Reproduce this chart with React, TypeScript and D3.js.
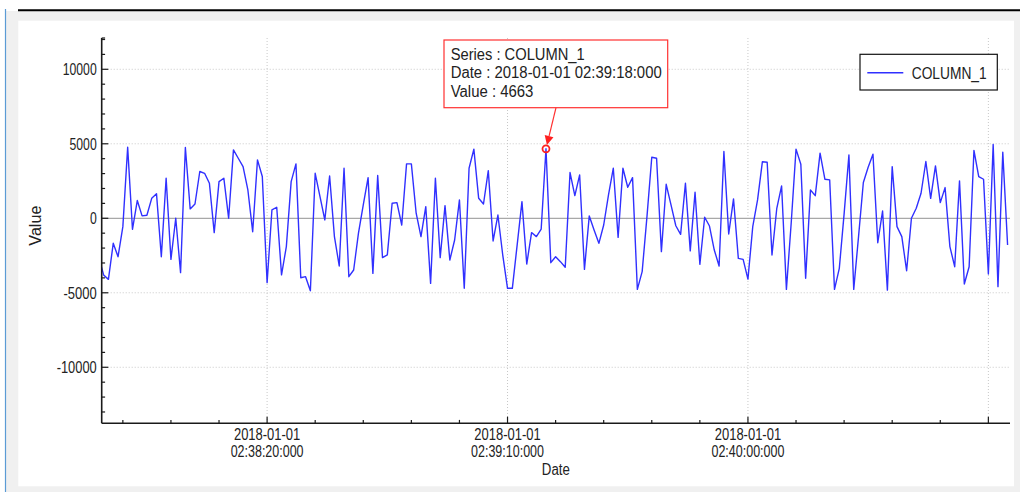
import React from 'react';
import * as d3 from 'd3';

// ---------- data ----------
const seriesName = 'COLUMN_1';
const startTime = '02:37:45';
const values: number[] = [
  -2600, -3800, -4100, -1680, -2580, -560, 4770, -740, 1190, 160,
  200, 1340, 1640, -2580, 2690, -2760, 0, -3650, 4750, 630,
  960, 3140, 3020, 2350, -960, 2460, 2690, 0, 4590, 4030,
  3470, 1900, -900, 3920, 2800, -4320, 560, 740, -3800, -1900,
  2460, 3650, -3990, -3920, -4860, 3020, 1460, -110, 2840, -1230,
  -3200, 3360, -3920, -3470, -1000, 900, 2730, -3700, 2870, -2640,
  -2460, 1010, 1050, -450, 3650, 3650, 340, -1230, 780, -4370,
  2690, -2640, 850, -2800, -1460, 1230, -4700, 3360, 4640, 1340,
  960, 3200, -1520, 220, -2450, -4700, -4700, -1800, 1120, -3070,
  -960, -1230, -720, 4663, -2980, -2580, -2910, -3290, 3070, 1520,
  2910, -3430, 160, -780, -1680, -450, 1570, 3360, -1280, 3360,
  2080, 2730, -4770, -3580, 110, 4100, 4030, -2240, 2280, 900,
  -500, -1080, 2350, -2190, 1750, -3090, 70, -520, -2130, -3200,
  4480, -1050, 1300, -2690, -2760, -4080, -560, 1230, 3790, 3760,
  -2460, 670, 2170, -4770, -300, 4640, 3630, -4030, 1900, 1520,
  4370, 2620, 2580, -4770, -3360, 300, 4250, -4770, -1230, 2400,
  3430, 4300, -1640, 490, -4820, 3470, -560, -1230, -3520, 0,
  670, 1680, 3810, 1340, 3520, 1050, 2060, -1900, -3250, 2510,
  -4410, -3250, 4550, 2800, 2620, -3740, 4950, -4590, 4430, -1790,
];
const yMajorTicks = [-10000, -5000, 0, 5000, 10000];
const xMajorTickTimes = ['02:38:20', '02:39:10', '02:40:00', '02:40:50'];
const xLabeledTicks = ['02:38:20', '02:39:10', '02:40:00'];
const tooltipTime = '02:39:18';
const dateLabel = '2018-01-01';
const xTitle = 'Date';
const yTitle = 'Value';

// ---------- helpers ----------
function tod(s: string, ms = 0): number {
  const [h, m, sec] = s.split(':').map(Number);
  return Date.UTC(2018, 0, 1, h, m, sec) + ms;
}
const pad = (n: number, w = 2) => String(n).padStart(w, '0');
const fmtTime = (t: number) => {
  const d = new Date(t);
  return `${pad(d.getUTCHours())}:${pad(d.getUTCMinutes())}:${pad(d.getUTCSeconds())}:${pad(d.getUTCMilliseconds(), 3)}`;
};
const charW = (c: string) => (c >= '0' && c <= '9' ? 6.8 : c === '-' ? 6 : c === ':' ? 3.9 : 6.5);
const textW = (s: string) => s.split('').reduce((a, c) => a + charW(c), 0);

const FONT = "'Liberation Sans', Arial, sans-serif";

const data = values.map((v, i) => ({ t: tod(startTime) + i * 1000, v }));

// ---------- layout ----------
const plot = { left: 101.7, right: 1010, top: 38, bottom: 423.3 };

export default function App() {
  const x = d3.scaleUtc().domain([tod('02:37:45', 600), tod('02:40:54', 500)]).range([plot.left, plot.right]);
  const y = d3.scaleLinear().domain([-13760, 12100]).range([plot.bottom, plot.top]);

  const line = d3.line<{ t: number; v: number }>().x(d => x(d.t)).y(d => y(d.v));

  const minorY = d3.range(-13000, 12001, 1000);
  const minorX = d3.utcSecond.every(10)!.range(new Date(x.domain()[0]), new Date(x.domain()[1])).map(d => +d);

  const tipPt = data.find(d => d.t === tod(tooltipTime))!;
  const px = x(tipPt.t), py = y(tipPt.v);
  const tip = { x: 444, y: 40, w: 223.7, h: 67.7 };
  const arrowStart = { x: 556, y: tip.y + tip.h };
  const ang = Math.atan2(py - arrowStart.y, px - arrowStart.x);
  const tipEnd = { x: px - Math.cos(ang) * 4, y: py - Math.sin(ang) * 4 };
  const ah = 9, aw = 4.5;
  const baseC = { x: tipEnd.x - Math.cos(ang) * ah, y: tipEnd.y - Math.sin(ang) * ah };
  const arrowPts = [
    [tipEnd.x, tipEnd.y],
    [baseC.x + Math.sin(ang) * aw, baseC.y - Math.cos(ang) * aw],
    [baseC.x - Math.sin(ang) * aw, baseC.y + Math.cos(ang) * aw],
  ];

  const tipLines = [
    { s: `Series : ${seriesName}`, w: 134 },
    { s: `Date : ${dateLabel} ${fmtTime(tipPt.t)}`, w: 211 },
    { s: `Value : ${tipPt.v}`, w: 82.7 },
  ];

  return (
    <svg width={1020} height={492} style={{ position: 'absolute', left: 0, top: 0 }} fontFamily={FONT}>
      <defs>
        <clipPath id="plotClip">
          <rect x={plot.left} y={plot.top} width={plot.right - plot.left} height={plot.bottom - plot.top} />
        </clipPath>
      </defs>
      {/* frame */}
      <rect x={0} y={0} width={1020} height={492} fill="#ffffff" />
      <rect x={6} y={11} width={1014} height={481} fill="#f0f0f0" />
      <line x1={5.5} y1={9} x2={5.5} y2={492} stroke="#5b9bd5" strokeWidth={1.2} />
      <line x1={18} y1={10.2} x2={1020} y2={10.2} stroke="#000" strokeWidth={2} />
      <rect x={18.3} y={20.7} width={995.7} height={465.6} fill="#ffffff" />

      {/* grid */}
      {yMajorTicks.filter(v => v !== 0).map(v => (
        <line key={'gy' + v} x1={plot.left} x2={plot.right} y1={y(v)} y2={y(v)} stroke="#c8c8c8" strokeDasharray="1,2" />
      ))}
      {xMajorTickTimes.map(s => (
        <line key={'gx' + s} x1={x(tod(s))} x2={x(tod(s))} y1={plot.top} y2={plot.bottom} stroke="#c8c8c8" strokeDasharray="1,2" />
      ))}
      <line x1={plot.left} x2={plot.right} y1={y(0)} y2={y(0)} stroke="#a8a8a8" strokeWidth={1.2} />

      {/* series */}
      <path d={line(data) || ''} fill="none" stroke="#3030ff" strokeWidth={1.4} clipPath="url(#plotClip)" strokeLinejoin="round" />

      {/* axes */}
      <line x1={plot.left} x2={plot.left} y1={plot.top} y2={plot.bottom} stroke="#1a1a1a" strokeWidth={1.6} />
      <line x1={plot.left} x2={plot.right} y1={plot.bottom} y2={plot.bottom} stroke="#1a1a1a" strokeWidth={1.6} />
      {minorY.map(v => (
        <line key={'my' + v} x1={plot.left} x2={plot.left + (yMajorTicks.includes(v) ? 6.6 : 3.4)} y1={y(v)} y2={y(v)} stroke="#1a1a1a" strokeWidth={1.2} />
      ))}
      {[...minorY, plot.top].length && (
        <line x1={plot.left} x2={plot.left + 3.4} y1={plot.top} y2={plot.top} stroke="#1a1a1a" strokeWidth={1.2} />
      )}
      {yMajorTicks.map(v => {
        const s = String(v);
        return (
          <text key={'ly' + v} x={96.7} y={y(v)} dy="0.36em" textAnchor="end" fontSize={17} fill="#222"
            textLength={textW(s)} lengthAdjust="spacingAndGlyphs">{s}</text>
        );
      })}
      {minorX.map(t => {
        const major = xMajorTickTimes.some(s => tod(s) === t);
        return <line key={'mx' + t} x1={x(t)} x2={x(t)} y1={plot.bottom} y2={plot.bottom - (major ? 6.6 : 3.4)} stroke="#1a1a1a" strokeWidth={1.2} />;
      })}
      {xLabeledTicks.map(s => {
        const t = tod(s);
        const l2 = fmtTime(t);
        return (
          <g key={'lx' + s}>
            <text x={x(t)} y={439.6} textAnchor="middle" fontSize={17} fill="#222"
              textLength={textW(dateLabel)} lengthAdjust="spacingAndGlyphs">{dateLabel}</text>
            <text x={x(t)} y={457} textAnchor="middle" fontSize={17} fill="#222"
              textLength={textW(l2)} lengthAdjust="spacingAndGlyphs">{l2}</text>
          </g>
        );
      })}
      <text x={(plot.left + plot.right) / 2} y={475} textAnchor="middle" fontSize={16} fill="#222"
        textLength={28} lengthAdjust="spacingAndGlyphs">{xTitle}</text>
      <text transform={`translate(41,${(plot.top + plot.bottom) / 2 - 5}) rotate(-90)`} textAnchor="middle" fontSize={16} fill="#222"
        textLength={40} lengthAdjust="spacingAndGlyphs">{yTitle}</text>

      {/* legend */}
      <rect x={860} y={54.3} width={137.3} height={35.7} fill="#fff" stroke="#111" strokeWidth={1.2} />
      <line x1={867.3} x2={903.3} y1={72.7} y2={72.7} stroke="#3030ff" strokeWidth={1.4} />
      <text x={911.7} y={72.7} dy="0.36em" fontSize={17} fill="#222" textLength={75} lengthAdjust="spacingAndGlyphs">{seriesName}</text>

      {/* tooltip */}
      <rect x={tip.x} y={tip.y} width={tip.w} height={tip.h} fill="#fff" stroke="#ff3030" strokeWidth={1.2} />
      {tipLines.map((l, i) => (
        <text key={'tt' + i} x={450.7} y={60 + i * 18.4} fontSize={16} fill="#222" textLength={l.w} lengthAdjust="spacingAndGlyphs">{l.s}</text>
      ))}
      <line x1={arrowStart.x} y1={arrowStart.y} x2={baseC.x} y2={baseC.y} stroke="#ff3030" strokeWidth={1.2} />
      <polygon points={arrowPts.map(p => p.join(',')).join(' ')} fill="#ff2020" />
      <circle cx={px} cy={py} r={3.5} fill="none" stroke="#ff2020" strokeWidth={1.8} />
    </svg>
  );
}
